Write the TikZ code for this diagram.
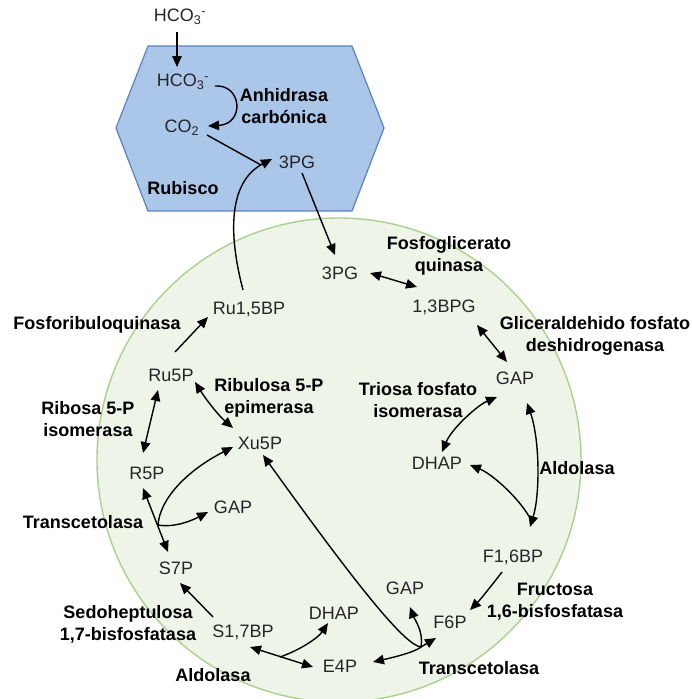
\documentclass[tikz,border=0pt]{standalone}
\usepackage{fontspec}
\setmainfont{Liberation Sans}
\usetikzlibrary{arrows.meta}
\definecolor{hexfill}{HTML}{AAC6E8}
\definecolor{hexline}{HTML}{5A83BC}
\definecolor{cellfill}{HTML}{EEF5E8}
\definecolor{cellline}{HTML}{A9D18E}
\definecolor{mettext}{HTML}{262626}
\begin{document}
\begin{tikzpicture}[x=1pt,y=-1pt,
  met/.style={font=\fontsize{18}{22}\selectfont, text=mettext, inner sep=1pt},
  enz/.style={font=\fontsize{18}{22}\selectfont\bfseries, text=black, align=center, inner sep=1pt},
  ln/.style={line width=1.4pt, black},
  arr/.style={ln, -{Triangle[length=11pt,width=9.5pt]}},
  darr/.style={ln, {Triangle[length=11pt,width=9.5pt]}-{Triangle[length=11pt,width=9.5pt]}}]
\useasboundingbox (0,0) rectangle (692,699);
% compartments
\draw[fill=cellfill, draw=cellline, line width=1.4pt] (339,460) circle[radius=242pt];
\draw[fill=hexfill, draw=hexline, line width=1.2pt] (148,46) -- (352,46) -- (384,128) -- (352,211) -- (148,211) -- (116,128) -- cycle;
% metabolites
\node[met] (hco3top) at (180,17) {HCO\textsubscript{3}\textsuperscript{-}};
\node[met] (hco3) at (183,82) {HCO\textsubscript{3}\textsuperscript{-}};
\node[met] (co2) at (182,128) {CO\textsubscript{2}};
\node[met] (pg3a) at (297,162) {3PG};
\node[met] (pg3b) at (340,273) {3PG};
\node[met] (bpg) at (444,307) {1,3BPG};
\node[met] (gap1) at (515,378) {GAP};
\node[met] (dhap1) at (437,463) {DHAP};
\node[met] (f16) at (513,557) {F1,6BP};
\node[met] (f6p) at (450,622) {F6P};
\node[met] (gap2) at (405,588) {GAP};
\node[met] (e4p) at (340,666) {E4P};
\node[met] (dhap2) at (334,613) {DHAP};
\node[met] (s17) at (243,632) {S1,7BP};
\node[met] (s7p) at (176,568) {S7P};
\node[met] (r5p) at (147,473) {R5P};
\node[met] (gap3) at (233,507) {GAP};
\node[met] (xu5p) at (260,443) {Xu5P};
\node[met] (ru5p) at (171,375) {Ru5P};
\node[met] (ru15) at (249,309) {Ru1,5BP};
% enzymes
\node[enz] (anh) at (284,106) {Anhidrasa\\carbónica};
\node[enz] (rub) at (183,188) {Rubisco};
\node[enz] (fq) at (449,256) {Fosfoglicerato\\quinasa};
\node[enz] (gfd) at (595,336) {Gliceraldehido fosfato\\deshidrogenasa};
\node[enz] (tfi) at (418,400) {Triosa fosfato\\isomerasa};
\node[enz] (ald1) at (577,468) {Aldolasa};
\node[enz] (fbp) at (555,602) {Fructosa\\1,6-bisfosfatasa};
\node[enz] (tk1) at (479,668) {Transcetolasa};
\node[enz] (ald2) at (213,675) {Aldolasa};
\node[enz] (shb) at (128,624) {Sedoheptulosa\\1,7-bisfosfatasa};
\node[enz] (tk2) at (83,522) {Transcetolasa};
\node[enz] (rpi) at (88,419) {Ribosa 5-P\\isomerasa};
\node[enz] (rpe) at (269,398) {Ribulosa 5-P\\epimerasa};
\node[enz] (frk) at (97,325) {Fosforibuloquinasa};
% junctions
\coordinate (j0) at (261,165);
\coordinate (j1) at (421,647);
\coordinate (j2) at (280,657);
\coordinate (j3) at (158,525);
% connectors
\draw[arr] ([shift={(-3,15)}]hco3top.center) -- ([shift={(-6,-15)}]hco3.center);
\draw[arr] ([shift={(32,4)}]hco3.center) .. controls (242,84) and (245,124) .. ([shift={(26,-2)}]co2.center);
\draw[ln] ([shift={(25,7)}]co2.center) -- (j0);
\draw[arr] ([shift={(-6,-19)}]ru15.center) .. controls (226,225) and (232,180) .. ([shift={(-25,-3)}]pg3a.center);
\draw[arr] ([shift={(5,11)}]pg3a.center) -- ([shift={(-5,-18)}]pg3b.center);
\draw[darr] ([shift={(30,0)}]pg3b.center) -- ([shift={(-27,-20)}]bpg.center);
\draw[darr] ([shift={(33,18)}]bpg.center) -- ([shift={(-8,-16)}]gap1.center);
\draw[darr] ([shift={(-18,19)}]gap1.center) .. controls (478,405) and (452,428) .. ([shift={(5,-11)}]dhap1.center);
\draw[darr] ([shift={(12,25)}]gap1.center) .. controls (540,440) and (540,495) .. ([shift={(17,-30)}]f16.center);
\draw[arr] ([shift={(17,-39)}]f16.center) .. controls (518,497) and (492,474) .. ([shift={(33,2)}]dhap1.center);
\draw[arr] ([shift={(-11,15)}]f16.center) .. controls (492,585) and (480,600) .. ([shift={(20,-12)}]f6p.center);
\draw[darr] ([shift={(33,-4)}]e4p.center) .. controls (395,657) and (415,652) .. (j1) -- ([shift={(-14,16)}]f6p.center);
\draw[arr] (j1) .. controls (424,632) and (414,618) .. ([shift={(5,19)}]gap2.center);
\draw[arr] (j1) .. controls (405,645) and (360,590) .. ([shift={(3,12)}]xu5p.center);
\draw[darr] ([shift={(7,15)}]s17.center) -- ([shift={(-27,1)}]e4p.center);
\draw[arr] (j2) .. controls (300,650) and (318,638) .. ([shift={(-6,10)}]dhap2.center);
\draw[arr] ([shift={(-30,-15)}]s17.center) -- ([shift={(4,15)}]s7p.center);
\draw[darr] ([shift={(-4,15)}]r5p.center) -- ([shift={(-8,-16)}]s7p.center);
\draw[arr] (j3) .. controls (160,498) and (188,470) .. ([shift={(-27,4)}]xu5p.center);
\draw[arr] (j3) .. controls (175,528) and (193,520) .. ([shift={(-25,5)}]gap3.center);
\draw[darr] ([shift={(24,7)}]ru5p.center) .. controls (205,398) and (218,415) .. ([shift={(-27,-15)}]xu5p.center);
\draw[darr] ([shift={(-13,15)}]ru5p.center) -- ([shift={(-4,-20)}]r5p.center);
\draw[arr] ([shift={(4,-23)}]ru5p.center) -- ([shift={(-41,8)}]ru15.center);
\end{tikzpicture}
\end{document}
